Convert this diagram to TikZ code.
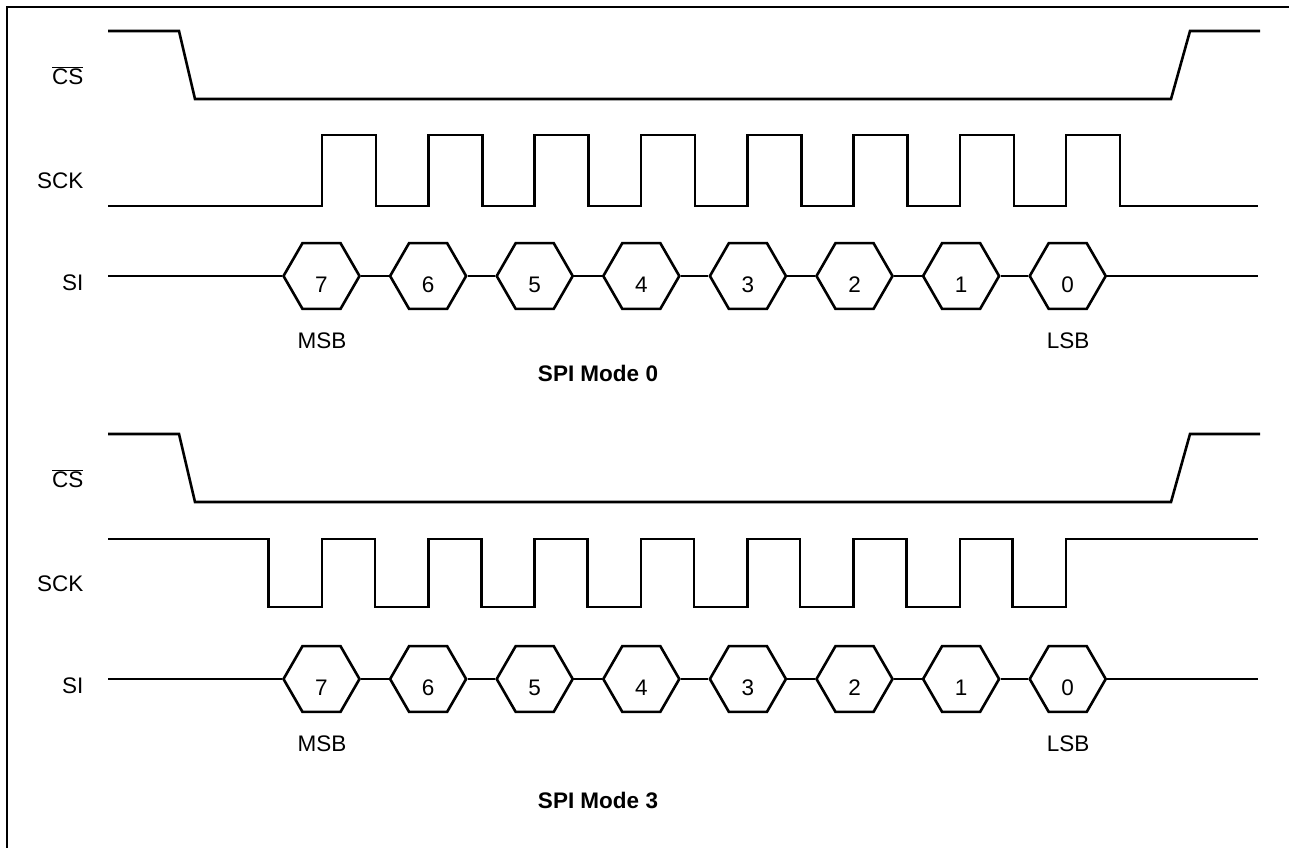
\documentclass[tikz,border=0pt]{standalone}
\usepackage{fontspec}
\setmainfont{Liberation Sans}
\usetikzlibrary{shapes.geometric}
\tikzset{
  sig/.style={line width=2.6pt, line join=miter, line cap=butt},
  hexa/.style={regular polygon, regular polygon sides=6, minimum size=76pt, inner sep=0pt, draw, line width=2.6pt},
  lbl/.style={font=\fontsize{22.5}{27}\selectfont, inner sep=0pt},
  ttl/.style={font=\fontsize{22.5}{27}\selectfont\bfseries, inner sep=0pt},
}
\begin{document}
\begin{tikzpicture}[x=1pt,y=-1pt]
\useasboundingbox (0,0) rectangle (1289,847);
\clip (0,0) rectangle (1289,847);
\fill[white] (0,0) rectangle (1289,847);
\draw[line width=1.4pt] (7,7) rectangle (1300,870);

\foreach \m/\off in {0/0, 3/403}{
  \begin{scope}[yshift=-\off pt]
  % labels
  \node[lbl, anchor=base east] (cs\m) at (83.5,84) {$\overline{\hbox{CS}}$};
  \node[lbl, anchor=base east] (sck\m) at (83.5,188.5) {SCK};
  \node[lbl, anchor=base east] (si\m) at (83.5,290) {SI};
  % CS waveform
  \draw[sig] (108,31) -- (179,31) -- (195,99) -- (1171,99) -- (1190,31) -- (1260,31);
  % SI hexagons
  \foreach \k [evaluate=\k as \d using int(7-\k)] in {0,...,7}{
    \node[hexa, label={[lbl, yshift=-9pt]center:\d}] (h\m-\k) at ({321.5+106.6*\k},276) {};
  }
  \coordinate (sis\m) at (108,276);
  \coordinate (sie\m) at (1258,276);
  \draw[sig] (sis\m) -- (h\m-0.west);
  \foreach \k [evaluate=\k as \n using int(\k+1)] in {0,...,6}{
    \draw[sig] (h\m-\k.east) -- (h\m-\n.west);
  }
  \draw[sig] (h\m-7.east) -- (sie\m);
  \node[lbl, anchor=base] (msb\m) at (322,348) {MSB};
  \node[lbl, anchor=base] (lsb\m) at (1068,348) {LSB};
  \end{scope}
}
% SCK mode 0
\draw[sig] (108,206) foreach \k in {0,...,7}{ -- ({322+106.3*\k},206) -- ++(0,-71) -- ++(54,0) -- ++(0,71) } -- (1258,206);
% SCK mode 3
\draw[sig] (108,539) foreach \k in {0,...,7}{ -- ({268.6+106.3*\k},539) -- ++(0,68) -- ++(53.4,0) -- ++(0,-68) } -- (1258,539);

\node[ttl, anchor=base] (t0) at (598,381) {SPI Mode 0};
\node[ttl, anchor=base] (t3) at (598,808) {SPI Mode 3};
\end{tikzpicture}
\end{document}
